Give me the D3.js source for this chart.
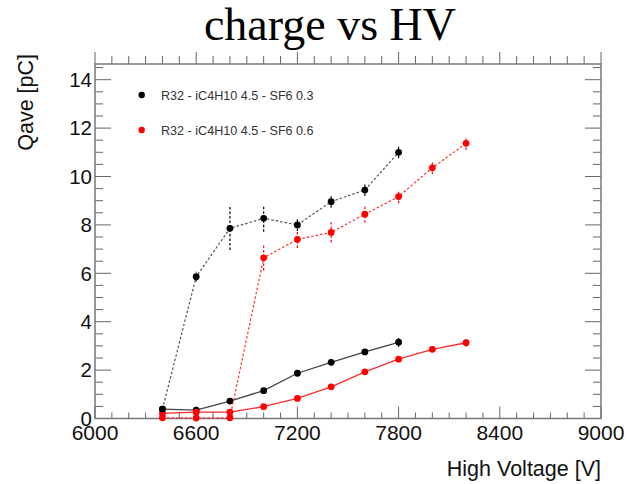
<!DOCTYPE html>
<html><head><meta charset="utf-8">
<script src="https://cdn.jsdelivr.net/npm/d3@7"></script>
<style>html,body{margin:0;padding:0;background:#fff;}</style>
</head><body>
<svg id="c" width="629" height="484"></svg>
<script>
// ---- data ----
const hvA = [6400, 6600, 6800, 7000, 7200, 7400, 7600, 7800];           // SF6 0.3
const hvB = [6400, 6600, 6800, 7000, 7200, 7400, 7600, 7800, 8000, 8200]; // SF6 0.6
const qA_high = [0.39, 5.86, 7.86, 8.27, 8.0, 8.96, 9.44, 11.0];
const eA_high = [0.08, 0.2, 0.9, 0.55, 0.25, 0.25, 0.25, 0.25];
const qA_low  = [0.39, 0.35, 0.72, 1.15, 1.87, 2.32, 2.75, 3.15];
const eA_low  = [0.05, 0.05, 0.05, 0.06, 0.07, 0.08, 0.1, 0.18];
const qB_high = [0.03, 0.02, 0.03, 6.64, 7.40, 7.69, 8.44, 9.17, 10.36, 11.37];
const eB_high = [0.05, 0.05, 0.05, 0.52, 0.35, 0.42, 0.35, 0.28, 0.26, 0.28];
const qB_low  = [0.21, 0.26, 0.26, 0.49, 0.83, 1.31, 1.93, 2.45, 2.86, 3.13];
const eB_low  = [0.04, 0.04, 0.04, 0.05, 0.06, 0.07, 0.08, 0.1, 0.1, 0.15];
const legendLabels = ["R32 - iC4H10 4.5 - SF6 0.3", "R32 - iC4H10 4.5 - SF6 0.6"];
const xTicks = [6000, 6600, 7200, 7800, 8400, 9000];
const yTicks = [0, 2, 4, 6, 8, 10, 12, 14];
const title = "charge vs HV";
const xTitle = "High Voltage [V]";
const yTitle = "Qave [pC]";

// ---- layout ----
const L = 95, R = 601, T = 64, B = 418.5;
const svg = d3.select("#c");
const x = d3.scaleLinear().domain([6000, 9000]).range([L, R]);
const y = d3.scaleLinear().domain([0, (B - T) / 24.2]).range([B, T]);

const tickCol = "#666";
// minor ticks
const xMinor = d3.range(6000, 9001, 100);
const yMinor = d3.range(0, 14.65, 0.5);
const g = svg.append("g");
// bottom ticks (inward)
g.selectAll(".xb").data(xMinor).join("line")
  .attr("x1", d => x(d)).attr("x2", d => x(d))
  .attr("y1", B).attr("y2", d => B - (xTicks.includes(d) ? 12 : 6))
  .attr("stroke", tickCol).attr("stroke-width", 1);
// top ticks (outward)
g.selectAll(".xt").data(xMinor).join("line")
  .attr("x1", d => x(d)).attr("x2", d => x(d))
  .attr("y1", T).attr("y2", d => T - (xTicks.includes(d) ? 12 : 8))
  .attr("stroke", tickCol).attr("stroke-width", 1);
// left ticks
g.selectAll(".yl").data(yMinor).join("line")
  .attr("y1", d => y(d)).attr("y2", d => y(d))
  .attr("x1", L).attr("x2", d => L + (d % 2 === 0 ? 16 : 8))
  .attr("stroke", tickCol).attr("stroke-width", 1);
// right ticks
g.selectAll(".yr").data(yMinor).join("line")
  .attr("y1", d => y(d)).attr("y2", d => y(d))
  .attr("x1", R).attr("x2", d => R - (d % 2 === 0 ? 16 : 8))
  .attr("stroke", tickCol).attr("stroke-width", 1);

// frame
svg.append("rect").attr("x", L).attr("y", T).attr("width", R - L).attr("height", B - T)
  .attr("fill", "none").attr("stroke", "#777").attr("stroke-width", 1.5);

// tick labels
svg.selectAll(".xl").data(xTicks).join("text")
  .attr("x", d => x(d)).attr("y", 440)
  .attr("text-anchor", "middle").attr("font-family", "Liberation Sans, Arial, sans-serif")
  .attr("font-size", 21).attr("fill", "#111").text(d => d);
svg.selectAll(".yl2").data(yTicks).join("text")
  .attr("x", 92).attr("y", d => y(d)).attr("dy", "0.36em")
  .attr("text-anchor", "end").attr("font-family", "Liberation Sans, Arial, sans-serif")
  .attr("font-size", 20.5).attr("fill", "#111").text(d => d);

// titles
svg.append("text").attr("x", 330).attr("y", 40).attr("text-anchor", "middle")
  .attr("font-family", "Liberation Serif, Times New Roman, serif").attr("font-size", 46)
  .attr("fill", "#000").text(title);
svg.append("text").attr("x", 601).attr("y", 476).attr("text-anchor", "end")
  .attr("font-family", "Liberation Sans, Arial, sans-serif").attr("font-size", 21.5)
  .attr("fill", "#111").text(xTitle);
svg.append("text").attr("transform", "translate(32.5,54) rotate(-90)").attr("text-anchor", "end")
  .attr("font-family", "Liberation Sans, Arial, sans-serif").attr("font-size", 21.5)
  .attr("fill", "#111").text(yTitle);

// series
function series(hv, q, e, color, lineColor, dash, width) {
  const pts = hv.map((h, i) => ({h, q: q[i], e: e[i]}));
  const line = d3.line().x(d => x(d.h)).y(d => y(d.q));
  const s = svg.append("g");
  s.append("path").datum(pts).attr("d", line).attr("fill", "none")
    .attr("stroke", lineColor).attr("stroke-width", width)
    .attr("stroke-dasharray", dash);
  s.selectAll("line").data(pts).join("line")
    .attr("x1", d => x(d.h)).attr("x2", d => x(d.h))
    .attr("y1", d => y(d.q - d.e)).attr("y2", d => y(d.q + d.e))
    .attr("stroke", color).attr("stroke-width", 1.2)
    .attr("stroke-dasharray", dash);
  s.selectAll("circle").data(pts).join("circle")
    .attr("cx", d => x(d.h)).attr("cy", d => y(d.q)).attr("r", 3.4)
    .attr("fill", color);
}
series(hvA, qA_low, eA_low, "#000", "#444", null, 1.3);
series(hvB, qB_low, eB_low, "#ff0000", "#ff2a2a", null, 1.3);
series(hvA, qA_high, eA_high, "#000", "#555", "2.5,2", 1.2);
series(hvB, qB_high, eB_high, "#ff0000", "#ff3030", "2.5,2", 1.2);

// legend
const legColors = ["#000", "#ff0000"];
const leg = svg.append("g");
leg.selectAll("circle").data(legendLabels).join("circle")
  .attr("cx", 141.7).attr("cy", (d, i) => 95 + i * 35).attr("r", 3.2)
  .attr("fill", (d, i) => legColors[i]);
leg.selectAll("text").data(legendLabels).join("text")
  .attr("x", 161).attr("y", (d, i) => 95 + i * 35).attr("dy", "0.36em")
  .attr("font-family", "Liberation Sans, Arial, sans-serif").attr("font-size", 12.6)
  .attr("fill", "#333").text(d => d);
</script>
</body></html>
